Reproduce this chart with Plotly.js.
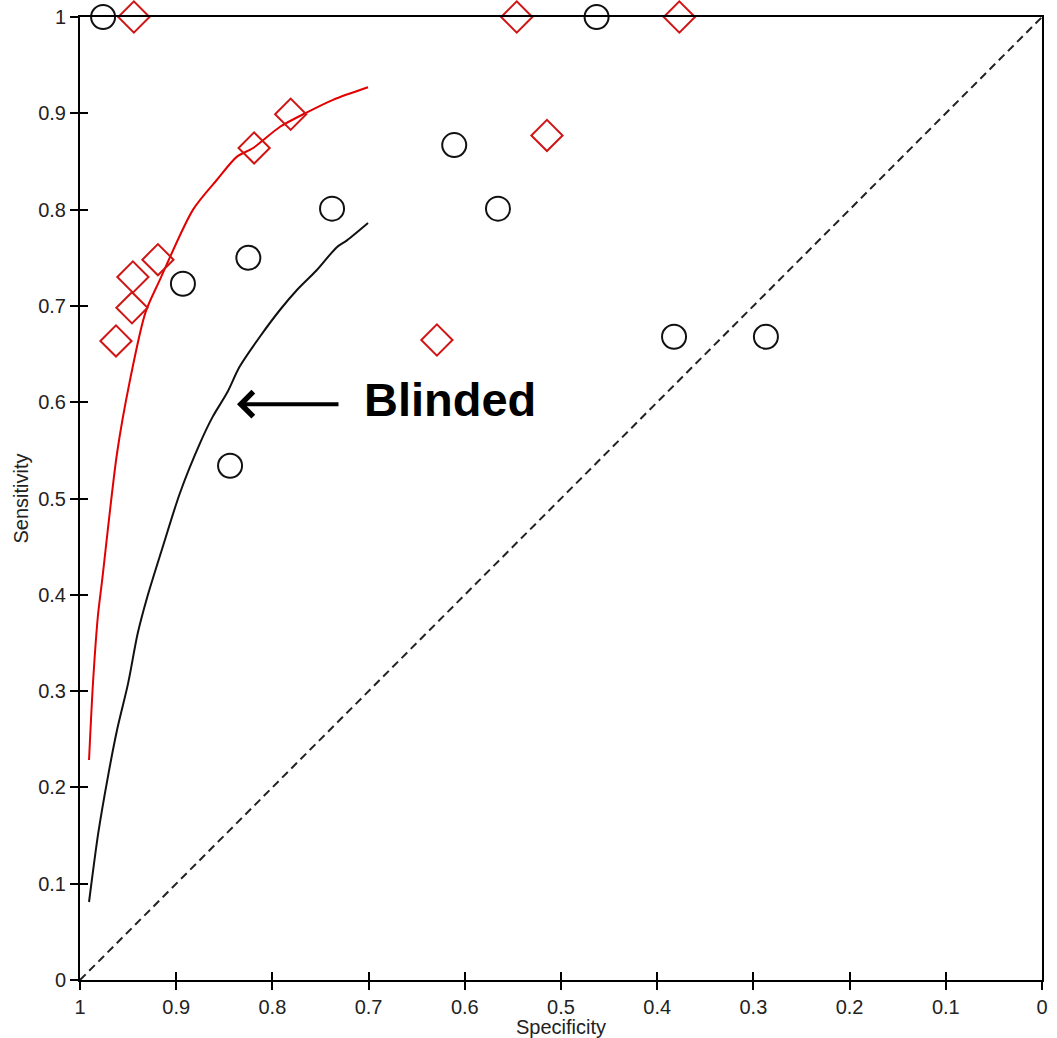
<!DOCTYPE html>
<html>
<head>
<meta charset="utf-8">
<script src="https://cdn.plot.ly/plotly-3.0.1.min.js"></script>
<style>html,body{margin:0;padding:0;background:#fff;}#chart{width:1057px;height:1038px;}</style>
</head>
<body>
<div id="chart"></div>
<script>
// Study points: specificity (x) and sensitivity (y)
const openSpec = [0.976, 0.463, 0.611, 0.5655, 0.738, 0.825, 0.893, 0.844, 0.3825, 0.287];
const openSens = [1.0, 1.0, 0.867, 0.801, 0.801, 0.750, 0.723, 0.534, 0.668, 0.668];

const blindSpec = [0.944, 0.546, 0.377, 0.5146, 0.781, 0.819, 0.919, 0.945, 0.946, 0.9626, 0.629];
const blindSens = [1.0, 1.0, 1.0, 0.877, 0.899, 0.864, 0.748, 0.730, 0.698, 0.6636, 0.6646];

// Summary ROC curves
const blindCurveSpec = [0.9906, 0.9865, 0.9813, 0.977, 0.9615, 0.948, 0.932, 0.917, 0.8825, 0.8576, 0.8368, 0.820, 0.792, 0.764, 0.737, 0.7006];
const blindCurveSens = [0.2285, 0.3084, 0.379, 0.415, 0.547, 0.623, 0.693, 0.727, 0.800, 0.831, 0.855, 0.864, 0.886, 0.901, 0.914, 0.927];

const openCurveSpec = [0.9906, 0.981, 0.971, 0.9615, 0.950, 0.940, 0.930, 0.915, 0.896, 0.875, 0.862, 0.847, 0.834, 0.813, 0.792, 0.774, 0.754, 0.733, 0.7225, 0.7006];
const openCurveSens = [0.081, 0.1527, 0.211, 0.2596, 0.308, 0.360, 0.398, 0.4465, 0.506, 0.558, 0.585, 0.610, 0.637, 0.668, 0.696, 0.717, 0.737, 0.761, 0.768, 0.786];

// Chance line
const chanceSpec = [1, 0];
const chanceSens = [0, 1];

// Ticks
const tickVals = [1, 0.9, 0.8, 0.7, 0.6, 0.5, 0.4, 0.3, 0.2, 0.1, 0];
const tickText = ["1", "0.9", "0.8", "0.7", "0.6", "0.5", "0.4", "0.3", "0.2", "0.1", "0"];

const annotText = "Blinded";
const annotPoint = [0.8368, 0.598];

const FONT = "Liberation Sans, Arial, sans-serif";

const traces = [
  {x: chanceSpec, y: chanceSens, xaxis: "x2", yaxis: "y2", mode: "lines", line: {color: "#222", width: 2, dash: "8px,5px"}, hoverinfo: "skip", showlegend: false},
  {x: openCurveSpec, y: openCurveSens, mode: "lines", line: {color: "#111", width: 2, shape: "spline", smoothing: 0.8}, showlegend: false},
  {x: blindCurveSpec, y: blindCurveSens, mode: "lines", line: {color: "#e30000", width: 2, shape: "spline", smoothing: 0.8}, showlegend: false},
  {x: openSpec, y: openSens, mode: "markers", cliponaxis: false,
   marker: {symbol: "circle-open", size: 24, color: "#111", line: {width: 2, color: "#111"}}, showlegend: false},
  {x: blindSpec, y: blindSens, mode: "markers", cliponaxis: false,
   marker: {symbol: "diamond-open", size: 24, color: "#d01515", line: {width: 2, color: "#d01515"}}, showlegend: false}
];

const axBase = {
  tickvals: tickVals, ticktext: tickText,
  showgrid: false, zeroline: false,
  showline: true, linecolor: "#000", linewidth: 2, mirror: true,
  ticks: "outside", ticklen: 8, tickwidth: 2, tickcolor: "#000",
  tickfont: {family: FONT, size: 20, color: "#222"},
  fixedrange: true
};

const layout = {
  width: 1057, height: 1038,
  margin: {l: 80, r: 15, t: 17, b: 58},
  paper_bgcolor: "#fff", plot_bgcolor: "#fff",
  xaxis: Object.assign({}, axBase, {range: [1, 0],
    title: {text: "Specificity", font: {family: FONT, size: 20, color: "#222"}, standoff: 4}}),
  yaxis: Object.assign({}, axBase, {range: [0, 1],
    title: {text: "Sensitivity", font: {family: FONT, size: 20, color: "#222"}, standoff: 4}}),
  xaxis2: {overlaying: "x", anchor: "y2", range: [1, 0], tickvals: tickVals, showticklabels: false,
    ticks: "inside", ticklen: 8, tickwidth: 2, tickcolor: "#000", showline: false, showgrid: false, zeroline: false, fixedrange: true},
  yaxis2: {overlaying: "y", anchor: "x2", range: [0, 1], tickvals: tickVals, showticklabels: false,
    ticks: "inside", ticklen: 8, tickwidth: 2, tickcolor: "#000", showline: false, showgrid: false, zeroline: false, fixedrange: true},
  annotations: [
    {x: annotPoint[0], y: annotPoint[1], xref: "x", yref: "y", text: "", showarrow: true,
     ax: 103, ay: 0, arrowhead: 4, arrowsize: 1.2, arrowwidth: 4, arrowcolor: "#000", standoff: 0},
    {x: 0.7067, y: 0.603, xref: "x", yref: "y", text: annotText, showarrow: false,
     xanchor: "left", yanchor: "middle", font: {family: FONT, size: 47, color: "#000", weight: "bold"}}
  ],
  showlegend: false
};

Plotly.newPlot("chart", traces, layout, {displayModeBar: false, staticPlot: true});
</script>
</body>
</html>
